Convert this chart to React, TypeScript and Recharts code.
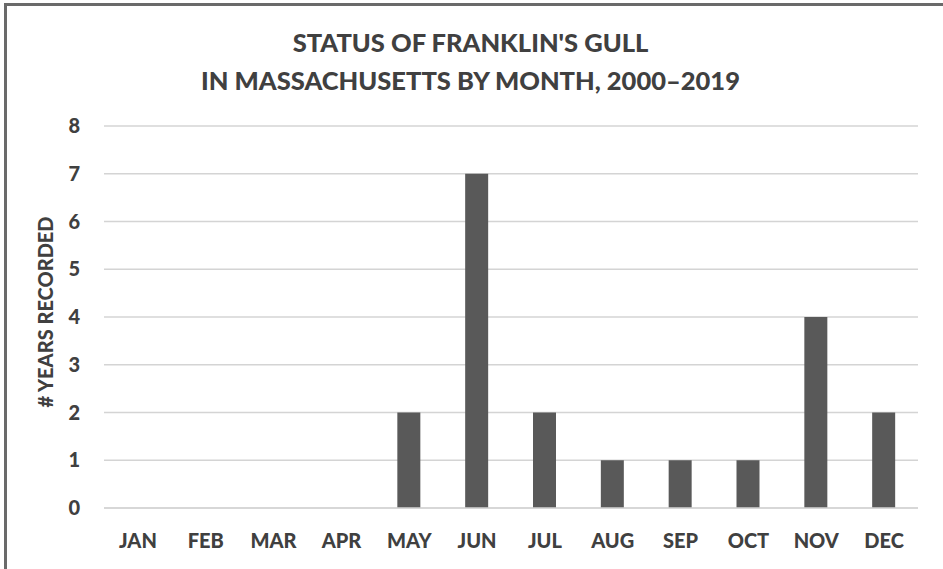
import React from "react";
import { BarChart, Bar, XAxis, YAxis, CartesianGrid } from "recharts";

const months = ["JAN", "FEB", "MAR", "APR", "MAY", "JUN", "JUL", "AUG", "SEP", "OCT", "NOV", "DEC"];
const yearsRecorded = [0, 0, 0, 0, 2, 7, 2, 1, 1, 1, 4, 2];
const yTicks = [0, 1, 2, 3, 4, 5, 6, 7, 8];
const titleLines = ["STATUS OF FRANKLIN'S GULL", "IN MASSACHUSETTS BY MONTH, 2000–2019"];
const yLabel = "# YEARS RECORDED";

const data = months.map((m, i) => ({ month: m, value: yearsRecorded[i] }));

const FONT = "Lato, 'Open Sans', sans-serif";
const TEXT = "#404040";
const W = 900;

export default function App() {
  return (
    <div
      style={{
        position: "fixed",
        left: 0,
        top: 0,
        width: 943,
        height: 569,
        background: "#fff",
        fontFamily: FONT,
        overflow: "hidden",
      }}
    >
      <div
        style={{
          position: "absolute",
          left: 4,
          top: 3,
          width: 943,
          height: 569,
          borderLeft: "3px solid #6a6a6a",
          borderTop: "3px solid #6a6a6a",
          boxSizing: "border-box",
        }}
      />
      {titleLines.map((t, i) => (
        <div
          key={i}
          style={{
            position: "absolute",
            left: 0,
            width: 943,
            top: 27 + i * 38,
            textAlign: "center",
            fontSize: 25.5,
            fontWeight: W,
            color: TEXT,
            lineHeight: "30px",
          }}
        >
          <span style={{ position: "relative", left: -1 }}>{t}</span>
        </div>
      ))}
      <div
        style={{
          position: "absolute",
          left: 45,
          top: 312,
          transform: "translate(-50%, -50%) rotate(-90deg)",
          whiteSpace: "nowrap",
          fontSize: 20,
          fontWeight: W,
          color: TEXT,
        }}
      >
        {yLabel}
      </div>
      <div style={{ position: "absolute", left: 0, top: 0 }}>
        <BarChart
          width={943}
          height={569}
          data={data}
          margin={{ top: 126, right: 25, bottom: 21, left: 44 }}
        >
          <CartesianGrid vertical={false} stroke="#d4d4d4" strokeWidth={1.5} />
          <XAxis
            dataKey="month"
            axisLine={{ stroke: "#d4d4d4", strokeWidth: 1.5 }}
            tickLine={false}
            tickSize={0}
            tickMargin={26}
            height={40}
            interval={0}
            tick={{ fill: TEXT, fontSize: 20, fontWeight: W, fontFamily: FONT }}
          />
          <YAxis
            domain={[0, 8]}
            ticks={yTicks}
            axisLine={false}
            tickLine={false}
            tickSize={0}
            tickMargin={24}
            width={60}
            interval={0}
            tick={{ fill: TEXT, fontSize: 20, fontWeight: W, fontFamily: FONT }}
          />
          <Bar dataKey="value" fill="#595959" barSize={23} isAnimationActive={false} />
        </BarChart>
      </div>
    </div>
  );
}
